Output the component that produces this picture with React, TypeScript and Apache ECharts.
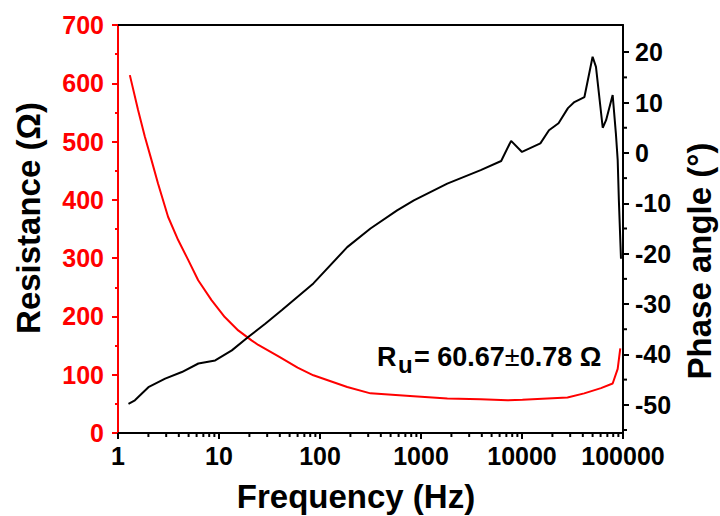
import React, { useEffect, useRef } from "react";
import * as echarts from "echarts";

// Resistance curve (red, left axis)
const resFreq = [1.31, 1.58, 1.84, 2.14, 2.49, 3.13, 3.94, 4.95, 6.22, 8.43, 11.4, 15.5, 21, 24.5, 40, 60, 86, 186, 316, 845, 1824, 3900, 7180, 10100, 28200, 41300, 60500, 79000, 88600, 94000];
const resValues = [614, 554, 509, 469, 428, 371, 331, 297, 262, 228, 199, 176, 159, 151, 130, 112, 99, 79, 68, 63, 59, 58, 56, 57, 61, 68, 77, 85, 110, 145];

// Phase angle curve (black, right axis)
const phaseFreq = [1.27, 1.47, 2.0, 2.93, 4.29, 6.25, 9.17, 13.4, 19.6, 28.7, 42, 86, 186, 316, 580, 850, 1820, 3900, 6220, 7800, 10000, 15200, 18500, 23000, 28500, 33000, 41500, 50000, 54000, 63000, 68000, 79000, 85000, 88600, 91000, 95500];
const phaseValues = [-49.8, -49.1, -46.5, -44.8, -43.5, -41.8, -41.2, -39.2, -36.5, -33.9, -31.2, -25.9, -18.7, -15.0, -11.4, -9.4, -6.1, -3.4, -1.6, 2.4, 0.2, 1.9, 4.5, 5.9, 8.9, 10.1, 11.1, 19.1, 17.1, 5.0, 6.5, 11.5, 3.9, -1.4, -9.4, -21];

const xMinorTicks = [2, 3, 4, 5, 6, 7, 8, 9, 20, 30, 40, 50, 60, 70, 80, 90, 200, 300, 400, 500, 600, 700, 800, 900, 2000, 3000, 4000, 5000, 6000, 7000, 8000, 9000, 20000, 30000, 40000, 50000, 60000, 70000, 80000, 90000];
const phaseTicks = [-50, -40, -30, -20, -10, 0, 10, 20];
const phaseMinorTicks = [-55, -45, -35, -25, -15, -5, 5, 15];

const FONT = "Liberation Sans, Arial, sans-serif";

export default function App() {
  const ref = useRef<HTMLDivElement>(null);
  useEffect(() => {
    if (!ref.current) return;
    const chart = echarts.init(ref.current, undefined, { renderer: "svg" });
    const resData = resFreq.map((f, i) => [f, resValues[i]]);
    const phaseData = phaseFreq.map((f, i) => [f, phaseValues[i]]);
    const xBase = {
      type: "log" as const,
      logBase: 10,
      min: 1,
      max: 100000,
      splitLine: { show: false },
    };
    chart.setOption({
      animation: false,
      backgroundColor: "#ffffff",
      grid: { left: 118, right: 97, top: 25, bottom: 83, containLabel: false },
      xAxis: [
        {
          ...xBase,
          position: "bottom",
          axisLine: { show: true, onZero: false, lineStyle: { color: "#000", width: 2 } },
          axisTick: { show: true, inside: false, length: 6, lineStyle: { color: "#000", width: 2 } },
          axisLabel: {
            show: true,
            margin: 10,
            color: "#000",
            fontSize: 25,
            fontWeight: "bold",
            fontFamily: FONT,
            formatter: (v: number) => String(Math.round(v)),
          },
        },
        {
          ...xBase,
          position: "top",
          axisLine: { show: true, onZero: false, lineStyle: { color: "#000", width: 2 } },
          axisTick: { show: false },
          axisLabel: { show: false },
        },
      ],
      yAxis: [
        {
          type: "value",
          position: "left",
          min: 0,
          max: 700,
          interval: 100,
          splitLine: { show: false },
          axisLine: { show: true, onZero: false, lineStyle: { color: "#ff0000", width: 2 } },
          axisTick: { show: true, inside: false, length: 6, lineStyle: { color: "#ff0000", width: 2 } },
          minorTick: { show: true, splitNumber: 2, length: 3, lineStyle: { color: "#ff0000", width: 2 } },
          axisLabel: {
            margin: 14,
            color: "#ff0000",
            fontSize: 25,
            fontWeight: "bold",
            fontFamily: FONT,
          },
        },
        {
          type: "value",
          position: "right",
          min: -55.6,
          max: 25.4,
          splitLine: { show: false },
          axisLine: { show: true, onZero: false, lineStyle: { color: "#000", width: 2 } },
          axisTick: { show: true, inside: false, length: 6, customValues: phaseTicks, lineStyle: { color: "#000", width: 2 } },
          axisLabel: {
            margin: 12,
            color: "#000",
            fontSize: 25,
            fontWeight: "bold",
            fontFamily: FONT,
            customValues: phaseTicks,
          },
        },
      ],
      series: [
        {
          type: "line",
          xAxisIndex: 0,
          yAxisIndex: 0,
          data: resData,
          showSymbol: false,
          symbol: "none",
          lineStyle: { color: "#ff0000", width: 2 },
          itemStyle: { color: "#ff0000" },
          z: 3,
        },
        {
          type: "line",
          xAxisIndex: 0,
          yAxisIndex: 1,
          data: phaseData,
          showSymbol: false,
          symbol: "none",
          lineStyle: { color: "#000000", width: 2 },
          itemStyle: { color: "#000000" },
          z: 4,
        },
        {
          // minor ticks of the logarithmic frequency axis
          type: "custom",
          xAxisIndex: 0,
          yAxisIndex: 0,
          clip: false,
          silent: true,
          data: xMinorTicks.map((v) => [v, 0]),
          renderItem: (params: any, api: any) => {
            const p = api.coord([api.value(0), api.value(1)]);
            return {
              type: "line",
              shape: { x1: p[0], y1: p[1], x2: p[0], y2: p[1] + 4 },
              style: { stroke: "#000", lineWidth: 2 },
            };
          },
          z: 5,
        },
        {
          // minor ticks of the phase axis
          type: "custom",
          xAxisIndex: 0,
          yAxisIndex: 1,
          clip: false,
          silent: true,
          data: phaseMinorTicks.map((v) => [100000, v]),
          renderItem: (params: any, api: any) => {
            const p = api.coord([api.value(0), api.value(1)]);
            return {
              type: "line",
              shape: { x1: p[0], y1: p[1], x2: p[0] + 4, y2: p[1] },
              style: { stroke: "#000", lineWidth: 2 },
            };
          },
          z: 5,
        },
      ],
      graphic: [
        {
          type: "text",
          x: 28,
          y: 218,
          rotation: Math.PI / 2,
          style: {
            text: "Resistance (Ω)",
            fill: "#000",
            font: `bold 33px ${FONT}`,
            textAlign: "center",
            textVerticalAlign: "middle",
          },
        },
        {
          type: "text",
          x: 699,
          y: 261,
          rotation: Math.PI / 2,
          style: {
            text: "Phase angle (°)",
            fill: "#000",
            font: `bold 33px ${FONT}`,
            textAlign: "center",
            textVerticalAlign: "middle",
          },
        },
        {
          type: "text",
          x: 356,
          y: 496,
          style: {
            text: "Frequency (Hz)",
            fill: "#000",
            font: `bold 33px ${FONT}`,
            textAlign: "center",
            textVerticalAlign: "middle",
          },
        },
        {
          type: "text",
          x: 377,
          y: 357,
          style: {
            text: "R",
            fill: "#000",
            font: `bold 27px ${FONT}`,
            textAlign: "left",
            textVerticalAlign: "middle",
          },
        },
        {
          type: "text",
          x: 398,
          y: 364,
          style: {
            text: "u",
            fill: "#000",
            font: `bold 24px ${FONT}`,
            textAlign: "left",
            textVerticalAlign: "middle",
          },
        },
        {
          type: "text",
          x: 414,
          y: 357,
          style: {
            text: "{a|= 60.67}{p|±}{a|0.78 Ω}",
            textAlign: "left",
            textVerticalAlign: "middle",
            rich: {
              a: { fontFamily: FONT, fontSize: 27, fontWeight: "bold", fill: "#000", color: "#000" },
              p: { fontFamily: FONT, fontSize: 27, fontWeight: "normal", fill: "#000", color: "#000" },
            },
          },
        },
      ],
    });
    return () => chart.dispose();
  }, []);
  return (
    <div
      ref={ref}
      style={{ position: "absolute", left: 0, top: 0, width: 720, height: 516 }}
    />
  );
}
